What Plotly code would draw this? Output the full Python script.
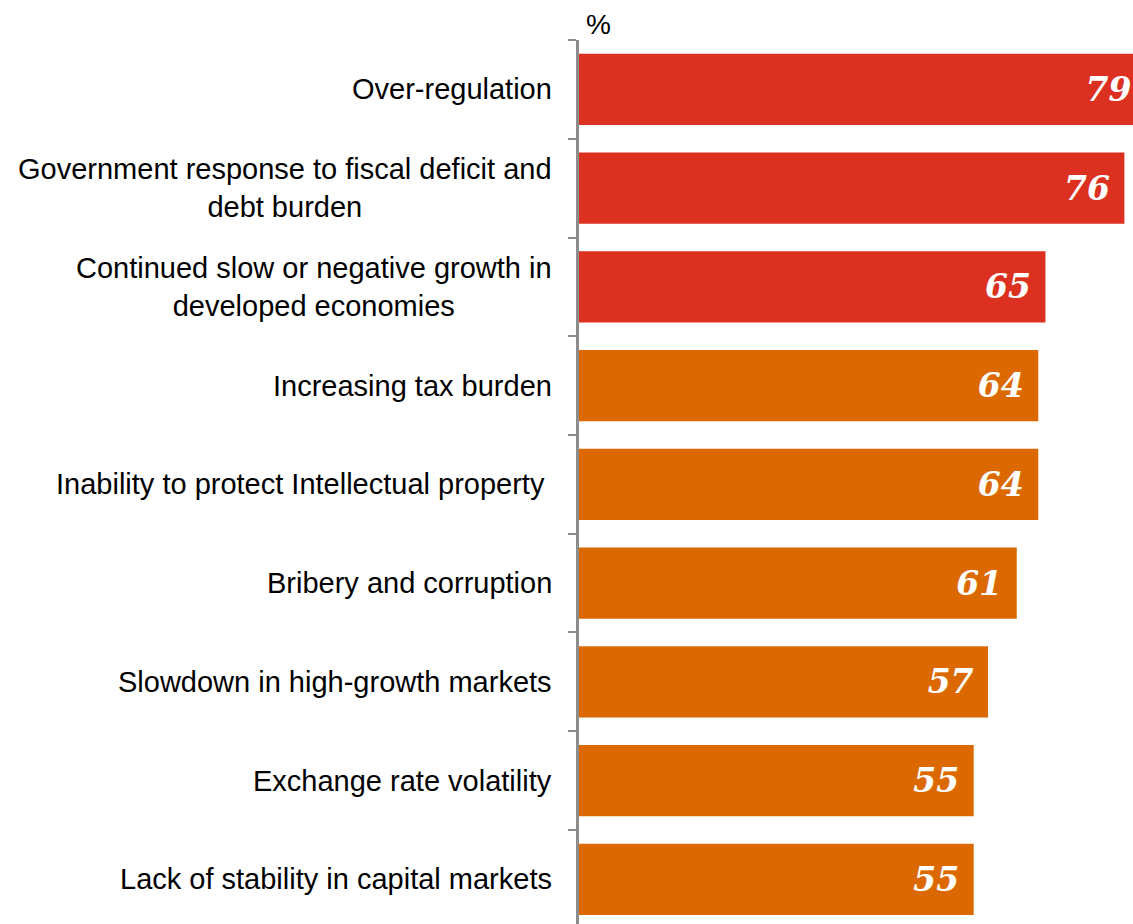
import plotly.graph_objects as go

categories = [
    "Over-regulation",
    "Government response to fiscal deficit and<br>debt burden",
    "Continued slow or negative growth in<br>developed economies",
    "Increasing tax burden",
    "Inability to protect Intellectual property\u00a0",
    "Bribery and corruption",
    "Slowdown in high-growth markets",
    "Exchange rate volatility",
    "Lack of stability in capital markets",
]
values = [79, 76, 65, 64, 64, 61, 57, 55, 55]
groups = ["top", "top", "top", "other", "other", "other", "other", "other", "other"]

RED = "#DC3020"
ORANGE = "#DB6900"
AXIS_GREY = "#8C8C8C"

colors = [RED if g == "top" else ORANGE for g in groups]

fig = go.Figure(
    go.Bar(
        y=categories,
        x=values,
        orientation="h",
        marker=dict(color=colors, line=dict(width=0)),
        width=0.72,
        text=values,
        texttemplate="%{x}\u00a0",
        textposition="inside",
        insidetextanchor="end",
        textangle=0,
        insidetextfont=dict(family="DejaVu Serif", size=33, color="white",
                            weight="bold", style="italic"),
        cliponaxis=True,
        hoverinfo="skip",
    )
)

# category labels as centred, right-anchored blocks left of the axis
for cat in categories:
    fig.add_annotation(
        x=0, xref="paper", y=cat, yref="y",
        text=cat, showarrow=False,
        xanchor="right", yanchor="middle", align="center",
        xshift=-25,
        font=dict(family="Liberation Sans, Arial", size=29, color="#000000"),
    )

fig.add_annotation(
    x=0, xref="paper", y=1, yref="paper",
    text="%", showarrow=False, xanchor="left", yanchor="bottom",
    xshift=5, yshift=-2,
    font=dict(family="Liberation Sans, Arial", size=28, color="#000000"),
)

fig.update_layout(
    width=1133, height=924,
    margin=dict(l=579, r=0, t=40, b=0),
    paper_bgcolor="white", plot_bgcolor="white",
    showlegend=False,
    bargap=0.28,
)
fig.update_xaxes(range=[0, 77.2], visible=False, showgrid=False, zeroline=False)
fig.update_yaxes(
    type="category",
    categoryorder="array", categoryarray=categories,
    range=[8.452, -0.5],
    showticklabels=False,
    showgrid=False, zeroline=False,
    showline=True, linecolor=AXIS_GREY, linewidth=3,
    ticks="outside", tickson="boundaries", ticklen=8, tickwidth=2, tickcolor=AXIS_GREY,
)

fig.write_html("out.html")
